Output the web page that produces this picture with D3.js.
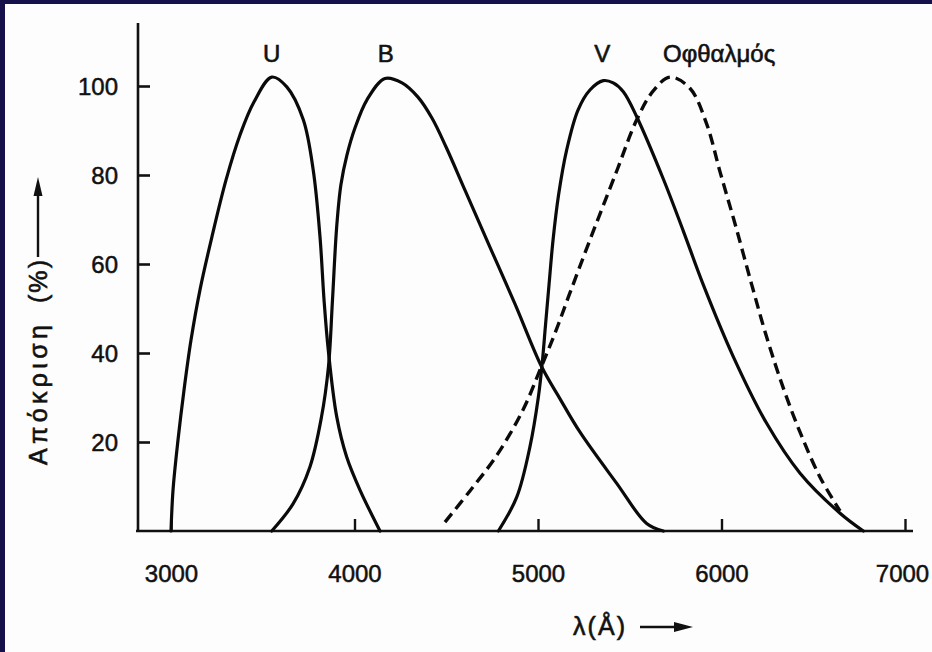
<!DOCTYPE html>
<html>
<head>
<meta charset="utf-8">
<script src="https://cdn.jsdelivr.net/npm/d3@7"></script>
<style>
  html, body { margin: 0; padding: 0; background: #ffffff; }
  svg { display: block; }
  text { font-family: "Liberation Sans", Arial, Helvetica, sans-serif; fill: #111; }
</style>
</head>
<body>
<svg id="chart" width="932" height="652"></svg>
<script>
// ---- data ----
const xTicks = [3000, 4000, 5000, 6000, 7000];
const yTicks = [20, 40, 60, 80, 100];

const uLambda = [3000, 3011, 3038, 3071, 3109, 3158, 3223, 3300, 3376, 3452, 3549, 3631, 3721, 3775, 3812, 3834, 3857, 3903, 3957, 4030, 4139];
const uValues = [0, 9.2, 20.4, 31.7, 42.9, 54.2, 66.1, 78.9, 89.0, 96.4, 102, 99.8, 92.4, 81.1, 66.1, 51.9, 40.7, 25.7, 16.7, 9.2, 0];

const bLambda = [3549, 3665, 3757, 3820, 3858, 3880, 3903, 3926, 3959, 4003, 4068, 4166, 4259, 4346, 4422, 4499, 4602, 4738, 4875, 5020, 5120, 5229, 5429, 5592, 5683];
const bValues = [0, 6.1, 14.4, 25.6, 36.9, 51.9, 68.4, 77.8, 84.5, 90.6, 96.9, 101.7, 100.7, 97.5, 92.8, 86.3, 76.6, 63.8, 51.0, 36.9, 29.7, 22.2, 10.7, 1.7, 0];

const vLambda = [4784, 4884, 4956, 5002, 5022, 5041, 5060, 5082, 5112, 5156, 5218, 5283, 5356, 5410, 5465, 5538, 5683, 5792, 5901, 6064, 6246, 6428, 6646, 6773];
const vValues = [0, 7.6, 18.9, 30.1, 37.3, 46.3, 55.3, 65.4, 75.5, 85.6, 94.6, 99.1, 101.2, 100.7, 98.7, 93.1, 79.1, 67.4, 55.3, 39.2, 24.2, 13, 4, 0];

const eyeLambda = [4493, 4629, 4777, 4918, 5011, 5093, 5174, 5283, 5429, 5538, 5628, 5719, 5828, 5919, 5992, 6074, 6165, 6246, 6337, 6428, 6537, 6646];
const eyeValues = [2.0, 9.0, 17.1, 27.2, 36.2, 44.5, 53.5, 65.4, 80.9, 92.4, 98.9, 102.0, 99.5, 91.5, 80.7, 69.0, 55.3, 43.6, 32.1, 22.2, 12.1, 4.5];

const curveLabels = ["U", "B", "V", "Οφθαλμός"];
const labelLambda = [3549, 4170, 5350, 5990];
const yAxisTitle = ["Απόκριση", "(%)"];
const xAxisTitle = "λ(Å)";

// ---- drawing ----
const svg = d3.select("#chart");
const navy = "#16104b";

// frame (navy on top and left edges)
svg.append("rect").attr("x", 0).attr("y", 0).attr("width", 932).attr("height", 652).attr("fill", navy);
svg.append("rect").attr("x", 5).attr("y", 4).attr("width", 927).attr("height", 648).attr("fill", "#fdfdfd");

const x = d3.scaleLinear().domain([3000, 7000]).range([171, 905]);
const y = d3.scaleLinear().domain([0, 100]).range([531, 86]);

const axisColor = "#111";
const fontStack = "Liberation Sans, Arial, sans-serif";

// Y axis
const yAxis = d3.axisLeft(y).tickValues(yTicks).tickSize(-12).tickPadding(20).tickFormat(d3.format("d"));
const gy = svg.append("g").attr("transform", "translate(138,0)").call(yAxis);
gy.select(".domain").remove();
gy.selectAll(".tick line").attr("stroke", axisColor).attr("stroke-width", 2.6);
gy.selectAll(".tick text").attr("font-size", 24).attr("font-family", fontStack).attr("fill", "#111")
  .attr("stroke", "#111").attr("stroke-width", 0.5).attr("dy", "0.36em");
svg.append("line").attr("x1", 138).attr("x2", 138).attr("y1", 23).attr("y2", y(0) + 1).attr("stroke", axisColor).attr("stroke-width", 2.6);

// X axis
const xAxis = d3.axisBottom(x).tickValues(xTicks).tickSize(-12).tickPadding(34).tickFormat(d3.format("d"));
const gx = svg.append("g").attr("transform", `translate(0,${y(0)})`).call(xAxis);
gx.select(".domain").remove();
gx.selectAll(".tick line").attr("stroke", axisColor).attr("stroke-width", 2.4);
gx.selectAll(".tick text").attr("font-size", 24).attr("font-family", fontStack).attr("fill", "#111")
  .attr("stroke", "#111").attr("stroke-width", 0.5)
  .attr("dx", d => d === 7000 ? -3 : 0);
svg.append("line").attr("x1", 136).attr("x2", 913).attr("y1", y(0)).attr("y2", y(0)).attr("stroke", axisColor).attr("stroke-width", 2.6);

// curves
const line = d3.line().x(d => x(d[0])).y(d => y(d[1])).curve(d3.curveCatmullRom.alpha(0.5));
function series(lams, vals) { return lams.map((l, i) => [l, vals[i]]); }

[[uLambda, uValues], [bLambda, bValues], [vLambda, vValues]].forEach(([l, v]) => {
  svg.append("path").datum(series(l, v)).attr("d", line)
    .attr("fill", "none").attr("stroke", "#0a0a0a").attr("stroke-width", 3.2)
    .attr("stroke-linejoin", "round").attr("stroke-linecap", "round");
});
svg.append("path").datum(series(eyeLambda, eyeValues)).attr("d", line)
  .attr("fill", "none").attr("stroke", "#0a0a0a").attr("stroke-width", 3.4)
  .attr("stroke-dasharray", "11,6");

// curve labels
curveLabels.forEach((t, i) => {
  const last = i === curveLabels.length - 1;
  svg.append("text").text(t)
    .attr("x", last ? 663 : x(labelLambda[i]))
    .attr("y", 62)
    .attr("text-anchor", last ? "start" : "middle")
    .attr("font-size", 24)
    .attr("stroke", "#111").attr("stroke-width", 0.6);
});

// Y axis title with arrow
svg.append("text").text(yAxisTitle[0])
  .attr("transform", "translate(47,465) rotate(-90)")
  .attr("font-size", 25)
  .attr("textLength", 140).attr("lengthAdjust", "spacing")
  .attr("stroke", "#111").attr("stroke-width", 0.6);
svg.append("text").text(yAxisTitle[1])
  .attr("transform", "translate(47,303) rotate(-90)")
  .attr("font-size", 25)
  .attr("textLength", 43).attr("lengthAdjust", "spacing")
  .attr("stroke", "#111").attr("stroke-width", 0.6);
svg.append("line").attr("x1", 38).attr("x2", 38).attr("y1", 257).attr("y2", 192)
  .attr("stroke", "#111").attr("stroke-width", 2.4);
svg.append("path").attr("d", "M38,177 L33.5,196 L42.5,196 Z").attr("fill", "#111");

// X axis title with arrow
svg.append("text").text(xAxisTitle)
  .attr("x", 573).attr("y", 635)
  .attr("font-size", 25)
  .attr("textLength", 52).attr("lengthAdjust", "spacing")
  .attr("stroke", "#111").attr("stroke-width", 0.6);
svg.append("line").attr("x1", 640).attr("x2", 678).attr("y1", 627).attr("y2", 627)
  .attr("stroke", "#111").attr("stroke-width", 2.4);
svg.append("path").attr("d", "M693,627 L674,622 L674,632 Z").attr("fill", "#111");
</script>
</body>
</html>
